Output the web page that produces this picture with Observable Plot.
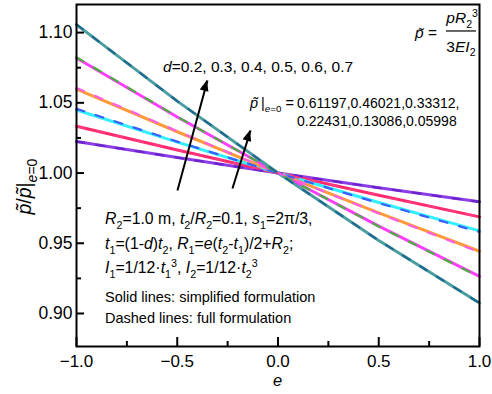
<!DOCTYPE html>
<html><head><meta charset="utf-8">
<script src="https://cdn.jsdelivr.net/npm/d3@7"></script>
<script src="https://cdn.jsdelivr.net/npm/@observablehq/plot@0.6"></script>
<style>
html,body{margin:0;padding:0;background:#fff;}
#chart svg{display:block;}
#chart text{white-space:pre;}
</style></head><body><div id="chart"></div>
<script>
// eccentricity values at which the ratios are listed
const eValues = [-1, -0.5, 0, 0.5, 1];
const dValues = [0.2, 0.3, 0.4, 0.5, 0.6, 0.7];
const pTildeAtZero = ["0.61197", "0.46021", "0.33312", "0.22431", "0.13086", "0.05998"];

// p~/p~|e=0, simplified formulation (solid)
const simpleD02 = [1.0224, 1.0110, 1.0, 0.9895, 0.9795];
const simpleD03 = [1.0333, 1.0164, 1.0, 0.9842, 0.9688];
const simpleD04 = [1.0449, 1.0220, 1.0, 0.9790, 0.9588];
const simpleD05 = [1.0598, 1.0294, 1.0, 0.9716, 0.9443];
const simpleD06 = [1.0819, 1.0399, 1.0, 0.9622, 0.9264];
const simpleD07 = [1.1057, 1.0512, 1.0, 0.9520, 0.9074];

// p~/p~|e=0, full formulation (dashed)
const fullD02 = [1.0224, 1.0110, 1.0, 0.9895, 0.9795];
const fullD03 = [1.0333, 1.0164, 1.0, 0.9842, 0.9688];
const fullD04 = [1.0457, 1.0224, 1.0, 0.9786, 0.9580];
const fullD05 = [1.0606, 1.0298, 1.0, 0.9712, 0.9437];
const fullD06 = [1.0824, 1.0401, 1.0, 0.9620, 0.9260];
const fullD07 = [1.1057, 1.0512, 1.0, 0.9520, 0.9074];

const solidColors  = ["#8b3de6", "#ff2a6c", "#33eeff", "#ff9a3a", "#ff3dff", "#4b9ea0"];
const dashedColors = ["#6a22cc", "#ff3a80", "#3b5cff", "#ff5ee6", "#4cae3e", "#1f6a8e"];

const xMajor = [-1, -0.5, 0, 0.5, 1];
const xMinor = [-0.75, -0.25, 0.25, 0.75];
const yMajor = [0.90, 0.95, 1.00, 1.05, 1.10];
const yMinor = [0.925, 0.975, 1.025, 1.075];

// arrows: tail -> head, in data coordinates
const arrowX1 = [-0.499, -0.226];
const arrowY1 = [0.9876, 0.9890];
const arrowX2 = [-0.350, -0.136];
const arrowY2 = [1.0659, 1.0303];

const simple = [simpleD02, simpleD03, simpleD04, simpleD05, simpleD06, simpleD07];
const full = [fullD02, fullD03, fullD04, fullD05, fullD06, fullD07];
const toRows = (vals) => eValues.map((e, i) => ({e, v: vals[i]}));

const W = 492, H = 394, mL = 76, mR = 13, mT = 4, mB = 48;
const plotW = W - mL - mR, plotH = H - mT - mB;
const font = '"Liberation Sans", Arial, sans-serif';
const arrows = arrowX1.map((x1, i) => ({x1, y1: arrowY1[i], x2: arrowX2[i], y2: arrowY2[i]}));

const plot = Plot.plot({
  width: W, height: H,
  marginLeft: mL, marginRight: mR, marginTop: mT, marginBottom: mB,
  style: {fontFamily: font, fontSize: "16px", color: "#000", background: "#fff", overflow: "visible"},
  x: {domain: [-1, 1]},
  y: {domain: [0.8765, 1.12]},
  marks: [
    ...simple.map((vals, k) => Plot.line(toRows(vals), {x: "e", y: "v", stroke: solidColors[k], strokeWidth: 3})),
    ...full.map((vals, k) => Plot.line(toRows(vals), {x: "e", y: "v", stroke: dashedColors[k], strokeWidth: 2.2, strokeDasharray: "8,12"})),
    Plot.tickX(xMajor, {x: d => d, insetTop: plotH - 9, strokeWidth: 2}),
    Plot.tickX(xMinor, {x: d => d, insetTop: plotH - 5, strokeWidth: 2}),
    Plot.tickY(yMajor, {y: d => d, insetRight: plotW - 8, strokeWidth: 2}),
    Plot.tickY(yMinor, {y: d => d, insetRight: plotW - 5, strokeWidth: 2}),
    Plot.axisX(xMajor, {tickSize: 0, tickPadding: 8, tickFormat: d3.format(".1f"), label: null, fontSize: 17}),
    Plot.axisY(yMajor, {tickSize: 0, tickPadding: 4, tickFormat: d3.format(".2f"), label: null, fontSize: 17.5}),
    Plot.frame({strokeWidth: 2}),
    Plot.link(arrows, {x1: "x1", y1: "y1", x2: "x2", y2: "y2", stroke: "#000", strokeWidth: 2})
  ]
});
document.getElementById("chart").append(plot);

const sx = plot.scale("x").apply, sy = plot.scale("y").apply;
const svg = d3.select(plot);
const g = svg.append("g").attr("font-family", font).attr("fill", "#000").attr("text-anchor", "start");

// text with italic / sub / sup runs
function richText(x, y, parts, size, extra, subScale = 0.68) {
  const t = g.append("text").attr("x", x).attr("y", y).attr("font-size", size).attr("text-anchor", "start");
  if (extra) extra(t);
  let shift = 0;
  for (const p of parts) {
    const [s, kind] = Array.isArray(p) ? p : [p, ""];
    const ts = t.append("tspan").text(s);
    let target = 0;
    if (kind.includes("sub")) target = size * 0.3;
    if (kind.includes("sup")) target = -size * 0.4;
    if (target !== shift) ts.attr("dy", target - shift);
    shift = target;
    if (kind.includes("sub") || kind.includes("sup")) ts.attr("font-size", size * subScale);
    if (kind.includes("i")) ts.attr("font-style", "italic");
  }
  return t;
}
const pt = "p\u0303";

// arrowheads
arrows.forEach(a => {
  const x1 = sx(a.x1), y1 = sy(a.y1), x2 = sx(a.x2), y2 = sy(a.y2);
  const ang = Math.atan2(y2 - y1, x2 - x1), L = 11, Wd = 4.5;
  const bx = x2 - L * Math.cos(ang), by = y2 - L * Math.sin(ang);
  const px = -Math.sin(ang) * Wd, py = Math.cos(ang) * Wd;
  g.append("path").attr("d", `M${x2},${y2}L${bx + px},${by + py}L${bx - px},${by - py}Z`).attr("fill", "#000");
});

// x label
richText(sx(0), H - 8, [["e", "i"]], 16.5, t => t.attr("text-anchor", "middle"));
// y label
richText(0, 0, [[pt, "i"], "/", [pt, "i"], "|", ["e", "sub i"], ["=0", "sub"]], 19.5,
  t => t.attr("text-anchor", "middle").attr("transform", `translate(31,${sy(0.9900)}) rotate(-90)`), 0.72);

// d values and p~ at e=0
richText(sx(-0.568), sy(1.0716), [["d", "i"], "=" + dValues.map(d => d.toFixed(1)).join(", ")], 15.5);
const pLine = richText(sx(-0.136), sy(1.0460), [[pt, "i"], "\u2009|", ["e", "sub i"], ["=0", "sub"], " ="], 14.5);
const numX = pLine.node().getComputedTextLength() + sx(-0.136) + 3;
richText(numX, sy(1.0460), [pTildeAtZero.slice(0, 3).join(",") + ","], 14);
richText(numX, sy(1.0328), [pTildeAtZero.slice(3).join(",")], 14);

// normalisation formula
richText(sx(0.683), sy(1.0958), [[pt, "i"], " ="], 15.5);
richText(sx(0.838), sy(1.1065), [["pR", "i"], ["2", "sub"], ["3", "sup"]], 15.5);
g.append("line").attr("x1", sx(0.836)).attr("x2", sx(0.836) + 30).attr("y1", sy(1.1008)).attr("y2", sy(1.1008)).attr("stroke", "#000").attr("stroke-width", 1.2);
richText(sx(0.838), sy(1.0860), ["3", ["EI", "i"], ["2", "sub"]], 15.5);

// parameters
const px0 = sx(-0.856);
richText(px0, sy(0.9634), [["R", "i"], ["2", "sub"], "=1.0 m, ", ["t", "i"], ["2", "sub"], "/", ["R", "i"], ["2", "sub"], "=0.1, ", ["s", "i"], ["1", "sub"], "=2\u03c0/3,"], 15.8);
richText(px0, sy(0.9456), [["t", "i"], ["1", "sub"], "=(1-", ["d", "i"], ")", ["t", "i"], ["2", "sub"], ", ", ["R", "i"], ["1", "sub"], "=", ["e", "i"], "(", ["t", "i"], ["2", "sub"], "-", ["t", "i"], ["1", "sub"], ")/2+", ["R", "i"], ["2", "sub"], ";"], 15.8);
richText(px0, sy(0.9285), [["I", "i"], ["1", "sub"], "=1/12\u00b7", ["t", "i"], ["1", "sub"], ["3", "sup"], ", ", ["I", "i"], ["2", "sub"], "=1/12\u00b7", ["t", "i"], ["2", "sub"], ["3", "sup"]], 15.8);
richText(px0, sy(0.9078), ["Solid lines: simplified formulation"], 14.5);
richText(px0, sy(0.8929), ["Dashed lines: full formulation"], 14.5);
</script></body></html>
